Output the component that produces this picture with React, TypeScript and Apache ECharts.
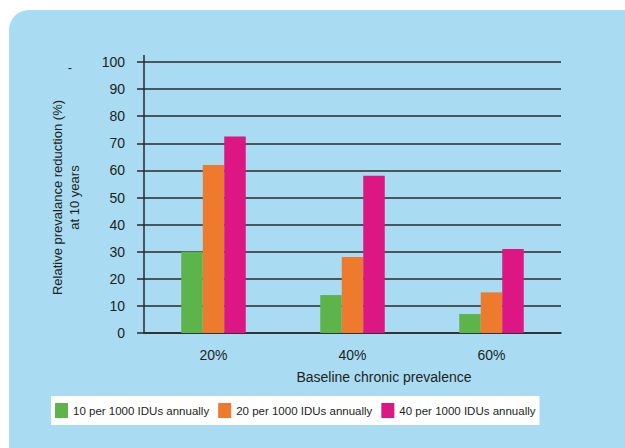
import React, { useEffect, useRef } from "react";
import * as echarts from "echarts";

const categories = ["20%", "40%", "60%"];
const seriesNames = [
  "10 per 1000 IDUs annually",
  "20 per 1000 IDUs annually",
  "40 per 1000 IDUs annually",
];
const low = [30, 14, 7];
const mid = [62, 28, 15];
const high = [72.5, 58, 31];
const yTicks = { min: 0, max: 100, interval: 10 };

const colors = ["#5db44a", "#ee7b2d", "#dc1683"];
const ink = "#231f20";
const font = "'Liberation Sans', Arial, Helvetica, sans-serif";

export default function App() {
  const ref = useRef<HTMLDivElement>(null);

  useEffect(() => {
    if (!ref.current) return;
    const chart = echarts.init(ref.current, undefined, { renderer: "svg" });
    const values = [low, mid, high];
    chart.setOption({
      animation: false,
      textStyle: { fontFamily: font, color: ink },
      grid: { left: 144, right: 64, top: 62, bottom: 115 },
      legend: {
        left: 51,
        top: 396,
        padding: [7, 4, 7, 4],
        itemGap: 9,
        itemWidth: 13,
        itemHeight: 15,
        icon: "rect",
        backgroundColor: "#ffffff",
        textStyle: { fontFamily: font, fontSize: 11.5, color: ink },
        data: seriesNames,
      },
      xAxis: {
        type: "category",
        data: categories,
        name: "Baseline chronic prevalence",
        nameLocation: "middle",
        nameGap: 37,
        nameTextStyle: { fontFamily: font, fontSize: 14, color: ink, padding: [0, 0, 0, 63] },
        axisLine: { show: true, lineStyle: { color: "#2a2a2a", width: 1.5 } },
        axisTick: { show: false },
        axisLabel: { fontFamily: font, fontSize: 14, color: ink, margin: 15 },
      },
      yAxis: {
        type: "value",
        min: yTicks.min,
        max: yTicks.max,
        interval: yTicks.interval,
        name: "Relative prevalance reduction (%)\nat 10 years",
        nameLocation: "middle",
        nameGap: 61,
        nameTextStyle: { fontFamily: font, fontSize: 13, color: ink, lineHeight: 17 },
        axisLine: { show: true, lineStyle: { color: "#2a2a2a", width: 1.5 } },
        axisTick: { show: true, length: 7, lineStyle: { color: "#2a2a2a", width: 1.5 } },
        axisLabel: { fontFamily: font, fontSize: 14, color: ink, margin: 19 },
        splitLine: { show: true, lineStyle: { color: "#2a2a2a", width: 1.5 } },
      },
      graphic: [
        {
          type: "line",
          shape: { x1: 144, y1: 55, x2: 144, y2: 62 },
          style: { stroke: "#2a2a2a", lineWidth: 1.5 },
        },
        {
          type: "text",
          x: 70,
          y: 67,
          style: { text: "-", font: `13px ${font}`, fill: ink, textAlign: "center", textVerticalAlign: "middle" },
        },
      ],
      series: seriesNames.map((name, i) => ({
        name,
        type: "bar",
        data: values[i],
        barGap: "0%",
        barCategoryGap: "53.6%",
        itemStyle: { color: colors[i] },
      })),
    });
    return () => chart.dispose();
  }, []);

  return (
    <div style={{ position: "fixed", left: 0, top: 0, width: 625, height: 448, background: "#ffffff", overflow: "hidden" }}>
      <div
        style={{
          position: "absolute",
          left: 9,
          top: 10,
          width: 640,
          height: 470,
          borderRadius: 20,
          background: "#a9dcf3",
        }}
      />
      <div ref={ref} style={{ position: "absolute", left: 0, top: 0, width: 625, height: 448 }} />
    </div>
  );
}
